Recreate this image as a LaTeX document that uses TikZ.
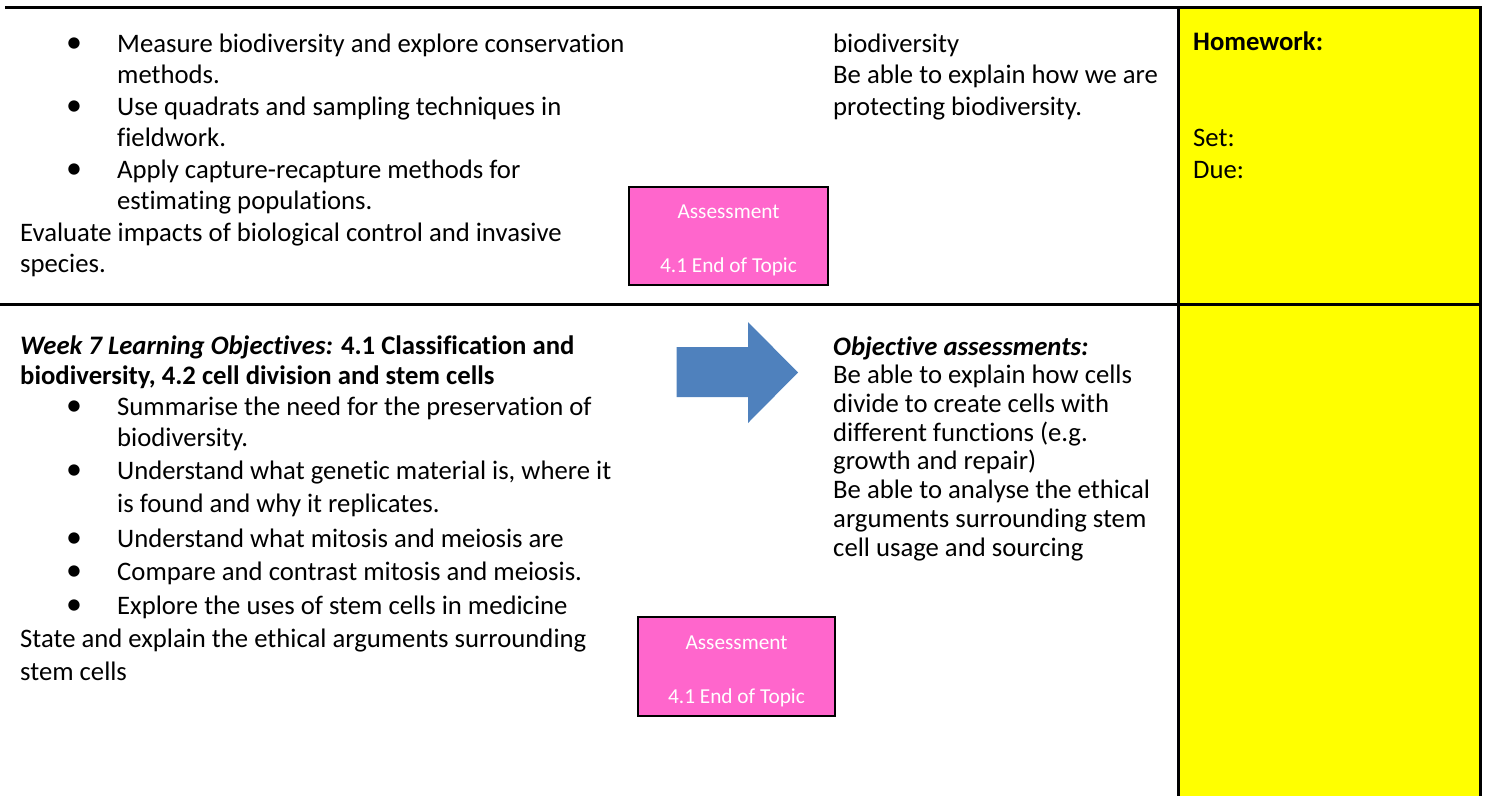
\documentclass[tikz,border=0pt]{standalone}
\usepackage{fontspec}
\setmainfont{Carlito}[RawFeature={-liga}]
\definecolor{yellowc}{HTML}{FFFF00}
\definecolor{pinkc}{HTML}{FF66CC}
\definecolor{bluec}{HTML}{4F81BD}
\begin{document}
\begin{tikzpicture}[x=1pt,y=-1pt,
  txt/.style={anchor=base west, inner sep=0pt, font=\fontsize{26.7}{32}\selectfont},
  bul/.style={anchor=center, inner sep=0pt, font=\fontsize{32}{32}\selectfont},
  pinkbox/.style={draw=black, line width=1.5pt, fill=pinkc, inner sep=0pt},
  ptxt/.style={anchor=base, inner sep=0pt, text=white, font=\fontsize{21.3}{25}\selectfont},
  rule/.style={draw=black, line width=3pt}]
\path[use as bounding box] (0,0) rectangle (1488,796);
% yellow homework column
\fill[yellowc] (1178,7) rectangle (1480.5,796);
% table rules
\draw[rule] (5,7) -- (1482,7);
\draw[rule, line width=2.7pt] (0,304.5) -- (1480,304.5);
\draw[rule] (1178,7) -- (1178,796);
\draw[rule, line width=3.4pt] (1480.5,7) -- (1480.5,796);

% row 1 left
\node[bul] (b1) at (74,45) {•};
\node[txt] (t1) at (117,52) {Measure biodiversity and explore conservation};
\node[txt] (t2) at (117,83.5) {methods.};
\node[bul] (b2) at (74,108) {•};
\node[txt] (t3) at (117,115) {Use quadrats and sampling techniques in};
\node[txt] (t4) at (117,146.5) {fieldwork.};
\node[bul] (b3) at (74,171) {•};
\node[txt] (t5) at (117,178) {Apply capture-recapture methods for};
\node[txt] (t6) at (117,209.5) {estimating populations.};
\node[txt] (t7) at (20,241) {Evaluate impacts of biological control and invasive};
\node[txt] (t8) at (20,272.5) {species.};

% row 1 right
\node[txt] (r1) at (833,52) {biodiversity};
\node[txt] (r2) at (833,83.5) {Be able to explain how we are};
\node[txt] (r3) at (833,115) {protecting biodiversity.};

% homework
\node[txt] (h1) at (1193,50) {\textbf{Homework:}};
\node[txt] (h2) at (1193,146.5) {Set:};
\node[txt] (h3) at (1193,178) {Due:};

% assessment box 1
\node[pinkbox, minimum width=199pt, minimum height=98pt] (pa1) at (728.5,236) {};
\node[ptxt] (pa1a) at (728.5,218) {Assessment};
\node[ptxt] (pa1b) at (728.5,272) {4.1 End of Topic};

% row 2 left
\node[txt] (w1) at (20,354) {\textbf{\textit{Week 7 Learning Objectives:}} \textbf{4.1 Classification and}};
\node[txt] (w2) at (20,384) {\textbf{biodiversity, 4.2 cell division and stem cells}};
\node[bul] (c1) at (74,408) {•};
\node[txt] (w3) at (117,415) {Summarise the need for the preservation of};
\node[txt] (w4) at (117,446) {biodiversity.};
\node[bul] (c2) at (74,472) {•};
\node[txt] (w5) at (117,479) {Understand what genetic material is, where it};
\node[txt] (w6) at (117,512) {is found and why it replicates.};
\node[bul] (c3) at (74,540) {•};
\node[txt] (w7) at (117,547) {Understand what mitosis and meiosis are};
\node[bul] (c4) at (74,573) {•};
\node[txt] (w8) at (117,580) {Compare and contrast mitosis and meiosis.};
\node[bul] (c5) at (74,607) {•};
\node[txt] (w9) at (117,614) {Explore the uses of stem cells in medicine};
\node[txt] (w10) at (20,647) {State and explain the ethical arguments surrounding};
\node[txt] (w11) at (20,680) {stem cells};

% arrow
\fill[bluec] (676.7,347) -- (748,347) -- (748,322) -- (798,372.5) -- (748,423) -- (748,397) -- (676.7,397) -- cycle;

% row 2 right
\node[txt] (o1) at (833,355) {\textbf{\textit{Objective assessments:}}};
\node[txt] (o2) at (833,383.7) {Be able to explain how cells};
\node[txt] (o3) at (833,412.4) {divide to create cells with};
\node[txt] (o4) at (833,441) {different functions (e.g.};
\node[txt] (o5) at (833,469.8) {growth and repair)};
\node[txt] (o6) at (833,498.5) {Be able to analyse the ethical};
\node[txt] (o7) at (833,527) {arguments surrounding stem};
\node[txt] (o8) at (833,556) {cell usage and sourcing};

% assessment box 2
\node[pinkbox, minimum width=197pt, minimum height=99pt] (pa2) at (736.5,666.5) {};
\node[ptxt] (pa2a) at (736.5,649) {Assessment};
\node[ptxt] (pa2b) at (736.5,703) {4.1 End of Topic};
\end{tikzpicture}
\end{document}
